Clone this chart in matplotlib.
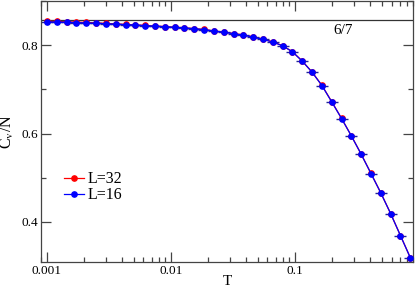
import matplotlib
matplotlib.use("Agg")
import matplotlib.pyplot as plt
from matplotlib.ticker import LogLocator, NullFormatter, MultipleLocator, FixedLocator, FixedFormatter

# -----------------------------------------------------------------------------
# Data (specific heat per site vs temperature)
# -----------------------------------------------------------------------------
T = [0.001, 0.0012, 0.00144, 0.001728, 0.002074, 0.002488, 0.002986, 0.003583,
     0.0043, 0.00516, 0.006192, 0.00743, 0.008916, 0.0107, 0.01284, 0.01541,
     0.01849, 0.02219, 0.02662, 0.03195, 0.03834, 0.04601, 0.05521, 0.06625,
     0.0795, 0.0954, 0.1145, 0.1374, 0.1648, 0.1978, 0.2374, 0.2848,
     0.3418, 0.4102, 0.4922, 0.5906, 0.7087, 0.8505]

cv_L16 = [0.8525, 0.8522, 0.8517, 0.8510, 0.8503, 0.8496, 0.8485, 0.8476,
          0.8465, 0.8455, 0.8443, 0.8430, 0.8418, 0.8404, 0.8390, 0.8372,
          0.8352, 0.8320, 0.8292, 0.8258, 0.8225, 0.8180, 0.8130, 0.8070,
          0.7985, 0.7850, 0.7638, 0.7388, 0.7087, 0.6716, 0.6340, 0.5946,
          0.5531, 0.5094, 0.4655, 0.4188, 0.3690, 0.3191]

cv_L32 = [0.8540, 0.8536, 0.8530, 0.8522, 0.8515, 0.8505, 0.8493, 0.8482,
          0.8470, 0.8459, 0.8447, 0.8434, 0.8421, 0.8407, 0.8393, 0.8375,
          0.8355, 0.8323, 0.8296, 0.8264, 0.8233, 0.8190, 0.8138, 0.8075,
          0.7988, 0.7852, 0.7640, 0.7390, 0.7090, 0.6722, 0.6343, 0.5948,
          0.5533, 0.5096, 0.4656, 0.4189, 0.3691, 0.3192]

limit_value = 6.0 / 7.0
limit_label = "6/7"

# -----------------------------------------------------------------------------
# Figure
# -----------------------------------------------------------------------------
plt.rcParams["font.family"] = ["Liberation Serif", "DejaVu Serif"]
plt.rcParams["mathtext.fontset"] = "stix"

fig = plt.figure(figsize=(4.15, 2.9), dpi=100)
ax = fig.add_axes([0.0995, 0.0976, 0.8965, 0.899])

ax.axhline(limit_value, color="#333333", lw=0.9, zorder=1)

ax.plot(T, cv_L32, color="red", lw=0.9, marker="o", ms=3.8, mec="red",
        label="L=32", zorder=2)
ax.plot(T, cv_L16, color="blue", lw=0.9, marker="o", ms=3.8, mec="blue",
        label="L=16", zorder=3)
ax.plot(T, cv_L16, ls="none", marker="_", ms=8, mew=1.0, color="#22229a",
        zorder=2.5)

ax.text(0.81, 0.885, limit_label, fontsize=11, ha="center", va="center",
        transform=ax.transAxes)

ax.set_xscale("log")
ax.set_xlim(0.0009, 0.9)
ax.set_ylim(0.31, 0.9)

ax.xaxis.set_major_locator(FixedLocator([0.001, 0.01, 0.1]))
ax.xaxis.set_major_formatter(FixedFormatter(["0.001", "0.01", "0.1"]))
ax.xaxis.set_minor_locator(LogLocator(base=10, subs=range(2, 10)))
ax.xaxis.set_minor_formatter(NullFormatter())
ax.yaxis.set_major_locator(MultipleLocator(0.2))
ax.yaxis.set_minor_locator(MultipleLocator(0.1))

ax.tick_params(which="both", direction="in", top=True, right=True,
               labelsize=9.5, color="#444444")
ax.tick_params(which="major", length=7, width=0.9, pad=2.5)
ax.tick_params(which="minor", length=3.5, width=0.9)
for sp in ax.spines.values():
    sp.set_color("#444444")
    sp.set_linewidth(0.9)

ax.set_xlabel("T", fontsize=11, labelpad=-1.5)
ax.set_ylabel(r"C$_\mathrm{v}$/N", fontsize=11.5, labelpad=4)

ax.legend(loc="upper left", bbox_to_anchor=(0.03, 0.39), frameon=False,
          fontsize=11.5, handlelength=1.3, handletextpad=0.2,
          labelspacing=0.0, borderpad=0.2)

plt.savefig("out.png", dpi=100)
plt.close()
